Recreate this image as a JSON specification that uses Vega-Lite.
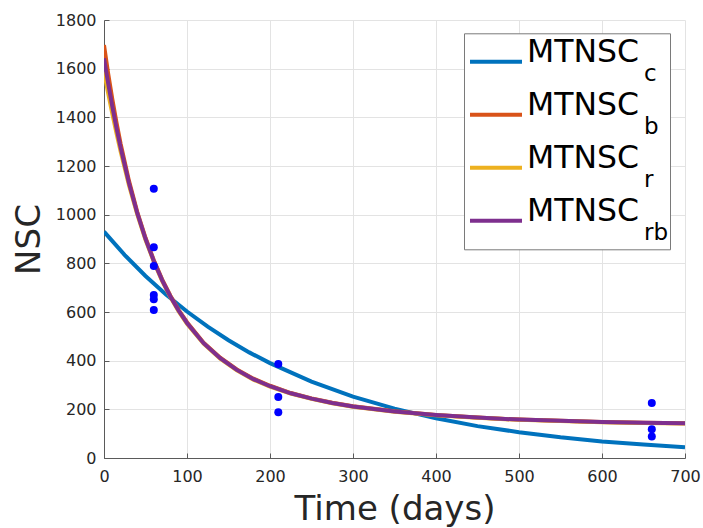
{
  "$schema": "https://vega.github.io/schema/vega-lite/v6.json",
  "width": 581,
  "height": 438,
  "autosize": "none",
  "padding": {"left": 104, "top": 20, "right": 18, "bottom": 70},
  "background": "white",
  "config": {
    "view": {"stroke": null},
    "font": "DejaVu Sans",
    "axis": {
      "labelFont": "DejaVu Sans",
      "labelFontSize": 16,
      "labelColor": "#262626",
      "titleFont": "DejaVu Sans",
      "titleFontSize": 34,
      "titleFontWeight": "normal",
      "titleColor": "#262626",
      "domainColor": "#5a5a5a",
      "tickColor": "#5a5a5a",
      "gridColor": "#e3e3e3",
      "gridWidth": 1,
      "tickSize": -5,
      "labelFlush": false,
      "format": "d"
    }
  },
  "datasets": {
    "curves": [
      {"series": "MTNSC_c", "time": 0, "nsc": 930}, {"series": "MTNSC_c", "time": 25, "nsc": 834}, {"series": "MTNSC_c", "time": 50, "nsc": 748}, {"series": "MTNSC_c", "time": 75, "nsc": 671}, {"series": "MTNSC_c", "time": 100, "nsc": 602}, {"series": "MTNSC_c", "time": 125, "nsc": 540}, {"series": "MTNSC_c", "time": 150, "nsc": 484}, {"series": "MTNSC_c", "time": 175, "nsc": 434}, {"series": "MTNSC_c", "time": 200, "nsc": 390}, {"series": "MTNSC_c", "time": 250, "nsc": 314}, {"series": "MTNSC_c", "time": 300, "nsc": 252}, {"series": "MTNSC_c", "time": 350, "nsc": 203}, {"series": "MTNSC_c", "time": 400, "nsc": 163}, {"series": "MTNSC_c", "time": 450, "nsc": 131}, {"series": "MTNSC_c", "time": 500, "nsc": 106}, {"series": "MTNSC_c", "time": 550, "nsc": 85}, {"series": "MTNSC_c", "time": 600, "nsc": 68}, {"series": "MTNSC_c", "time": 650, "nsc": 55}, {"series": "MTNSC_c", "time": 700, "nsc": 44},
      {"series": "MTNSC_b", "time": 0, "nsc": 1697}, {"series": "MTNSC_b", "time": 5, "nsc": 1580}, {"series": "MTNSC_b", "time": 10, "nsc": 1475}, {"series": "MTNSC_b", "time": 15, "nsc": 1379}, {"series": "MTNSC_b", "time": 20, "nsc": 1292}, {"series": "MTNSC_b", "time": 30, "nsc": 1140}, {"series": "MTNSC_b", "time": 40, "nsc": 1012}, {"series": "MTNSC_b", "time": 50, "nsc": 905}, {"series": "MTNSC_b", "time": 60, "nsc": 813}, {"series": "MTNSC_b", "time": 70, "nsc": 734}, {"series": "MTNSC_b", "time": 80, "nsc": 667}, {"series": "MTNSC_b", "time": 90, "nsc": 608}, {"series": "MTNSC_b", "time": 100, "nsc": 558}, {"series": "MTNSC_b", "time": 120, "nsc": 474}, {"series": "MTNSC_b", "time": 140, "nsc": 412}, {"series": "MTNSC_b", "time": 160, "nsc": 364}, {"series": "MTNSC_b", "time": 180, "nsc": 326}, {"series": "MTNSC_b", "time": 200, "nsc": 297}, {"series": "MTNSC_b", "time": 225, "nsc": 267}, {"series": "MTNSC_b", "time": 250, "nsc": 245}, {"series": "MTNSC_b", "time": 275, "nsc": 227}, {"series": "MTNSC_b", "time": 300, "nsc": 213}, {"series": "MTNSC_b", "time": 350, "nsc": 192}, {"series": "MTNSC_b", "time": 400, "nsc": 177}, {"series": "MTNSC_b", "time": 450, "nsc": 166}, {"series": "MTNSC_b", "time": 500, "nsc": 158}, {"series": "MTNSC_b", "time": 550, "nsc": 153}, {"series": "MTNSC_b", "time": 600, "nsc": 148}, {"series": "MTNSC_b", "time": 650, "nsc": 145}, {"series": "MTNSC_b", "time": 700, "nsc": 143},
      {"series": "MTNSC_r", "time": 0, "nsc": 1588}, {"series": "MTNSC_r", "time": 5, "nsc": 1500}, {"series": "MTNSC_r", "time": 10, "nsc": 1415}, {"series": "MTNSC_r", "time": 15, "nsc": 1335}, {"series": "MTNSC_r", "time": 20, "nsc": 1260}, {"series": "MTNSC_r", "time": 30, "nsc": 1122}, {"series": "MTNSC_r", "time": 40, "nsc": 1002}, {"series": "MTNSC_r", "time": 50, "nsc": 897}, {"series": "MTNSC_r", "time": 60, "nsc": 807}, {"series": "MTNSC_r", "time": 70, "nsc": 728}, {"series": "MTNSC_r", "time": 80, "nsc": 661}, {"series": "MTNSC_r", "time": 90, "nsc": 602}, {"series": "MTNSC_r", "time": 100, "nsc": 552}, {"series": "MTNSC_r", "time": 120, "nsc": 470}, {"series": "MTNSC_r", "time": 140, "nsc": 408}, {"series": "MTNSC_r", "time": 160, "nsc": 360}, {"series": "MTNSC_r", "time": 180, "nsc": 322}, {"series": "MTNSC_r", "time": 200, "nsc": 293}, {"series": "MTNSC_r", "time": 225, "nsc": 265}, {"series": "MTNSC_r", "time": 250, "nsc": 243}, {"series": "MTNSC_r", "time": 275, "nsc": 225}, {"series": "MTNSC_r", "time": 300, "nsc": 211}, {"series": "MTNSC_r", "time": 350, "nsc": 190}, {"series": "MTNSC_r", "time": 400, "nsc": 176}, {"series": "MTNSC_r", "time": 450, "nsc": 165}, {"series": "MTNSC_r", "time": 500, "nsc": 157}, {"series": "MTNSC_r", "time": 550, "nsc": 152}, {"series": "MTNSC_r", "time": 600, "nsc": 147}, {"series": "MTNSC_r", "time": 650, "nsc": 144}, {"series": "MTNSC_r", "time": 700, "nsc": 142},
      {"series": "MTNSC_rb", "time": 0, "nsc": 1643}, {"series": "MTNSC_rb", "time": 5, "nsc": 1540}, {"series": "MTNSC_rb", "time": 10, "nsc": 1445}, {"series": "MTNSC_rb", "time": 15, "nsc": 1357}, {"series": "MTNSC_rb", "time": 20, "nsc": 1276}, {"series": "MTNSC_rb", "time": 30, "nsc": 1131}, {"series": "MTNSC_rb", "time": 40, "nsc": 1007}, {"series": "MTNSC_rb", "time": 50, "nsc": 901}, {"series": "MTNSC_rb", "time": 60, "nsc": 810}, {"series": "MTNSC_rb", "time": 70, "nsc": 731}, {"series": "MTNSC_rb", "time": 80, "nsc": 664}, {"series": "MTNSC_rb", "time": 90, "nsc": 605}, {"series": "MTNSC_rb", "time": 100, "nsc": 555}, {"series": "MTNSC_rb", "time": 120, "nsc": 472}, {"series": "MTNSC_rb", "time": 140, "nsc": 410}, {"series": "MTNSC_rb", "time": 160, "nsc": 362}, {"series": "MTNSC_rb", "time": 180, "nsc": 324}, {"series": "MTNSC_rb", "time": 200, "nsc": 295}, {"series": "MTNSC_rb", "time": 225, "nsc": 266}, {"series": "MTNSC_rb", "time": 250, "nsc": 244}, {"series": "MTNSC_rb", "time": 275, "nsc": 226}, {"series": "MTNSC_rb", "time": 300, "nsc": 212}, {"series": "MTNSC_rb", "time": 350, "nsc": 191}, {"series": "MTNSC_rb", "time": 400, "nsc": 177}, {"series": "MTNSC_rb", "time": 450, "nsc": 166}, {"series": "MTNSC_rb", "time": 500, "nsc": 158}, {"series": "MTNSC_rb", "time": 550, "nsc": 153}, {"series": "MTNSC_rb", "time": 600, "nsc": 148}, {"series": "MTNSC_rb", "time": 650, "nsc": 145}, {"series": "MTNSC_rb", "time": 700, "nsc": 143}
    ],
    "observed": [
      {"time": 60, "nsc": 1107}, {"time": 60, "nsc": 866}, {"time": 60, "nsc": 789}, {"time": 60, "nsc": 670}, {"time": 60, "nsc": 652}, {"time": 60, "nsc": 608},
      {"time": 210, "nsc": 386}, {"time": 210, "nsc": 251}, {"time": 210, "nsc": 188},
      {"time": 660, "nsc": 226}, {"time": 660, "nsc": 118}, {"time": 660, "nsc": 88}
    ],
    "subs": [{"sub": "c"}, {"sub": "b"}, {"sub": "r"}, {"sub": "rb"}]
  },
  "layer": [
    {
      "data": {"name": "curves"},
      "mark": {"type": "line", "strokeWidth": 4, "clip": true},
      "encoding": {
        "x": {"field": "time", "type": "quantitative", "scale": {"domain": [0, 700], "nice": false},
              "axis": {"title": "Time (days)", "values": [0, 100, 200, 300, 400, 500, 600, 700], "labelPadding": 15, "titlePadding": 8}},
        "y": {"field": "nsc", "type": "quantitative", "scale": {"domain": [0, 1800], "nice": false},
              "axis": {"title": "NSC", "values": [0, 200, 400, 600, 800, 1000, 1200, 1400, 1600, 1800], "labelPadding": 13, "titlePadding": 9}},
        "color": {"field": "series", "type": "nominal",
                  "scale": {"domain": ["MTNSC_c", "MTNSC_b", "MTNSC_r", "MTNSC_rb"], "range": ["#0072BD", "#D95319", "#EDB120", "#7E2F8E"]},
                  "legend": {"orient": "none", "legendX": 360, "legendY": 13.3, "padding": 2,
                             "title": ".", "titleOrient": "right", "titleAnchor": "start", "titleOpacity": 0, "titleFontSize": 6, "titlePadding": 26,
                             "fillColor": "white", "strokeColor": "#7a7a7a", "clipHeight": 53, "rowPadding": 0,
                             "symbolType": "stroke", "symbolSize": 2704, "symbolStrokeWidth": 4, "symbolOffset": 2,
                             "labelOffset": 3, "labelFont": "DejaVu Sans", "labelFontSize": 31.5, "labelColor": "black",
                             "labelBaseline": "alphabetic", "labelLimit": 0, "labelExpr": "'MTNSC'"}}
      }
    },
    {
      "data": {"name": "subs"},
      "mark": {"type": "point", "opacity": 0},
      "encoding": {
        "shape": {"field": "sub", "type": "nominal", "scale": {"domain": ["c", "b", "r", "rb"]},
                  "legend": {"orient": "none", "legendX": 515, "legendY": 32, "title": null, "padding": 2,
                             "clipHeight": 53, "rowPadding": 0, "symbolSize": 1, "symbolOpacity": 0, "symbolStrokeWidth": 0,
                             "symbolOffset": 0, "labelOffset": 0, "labelFont": "DejaVu Sans", "labelFontSize": 23,
                             "labelColor": "black", "labelBaseline": "alphabetic", "labelLimit": 0}}
      }
    },
    {
      "data": {"name": "observed"},
      "mark": {"type": "point", "filled": true, "opacity": 1, "size": 64, "color": "#0000FF"},
      "encoding": {
        "x": {"field": "time", "type": "quantitative"},
        "y": {"field": "nsc", "type": "quantitative"}
      }
    }
  ]
}
